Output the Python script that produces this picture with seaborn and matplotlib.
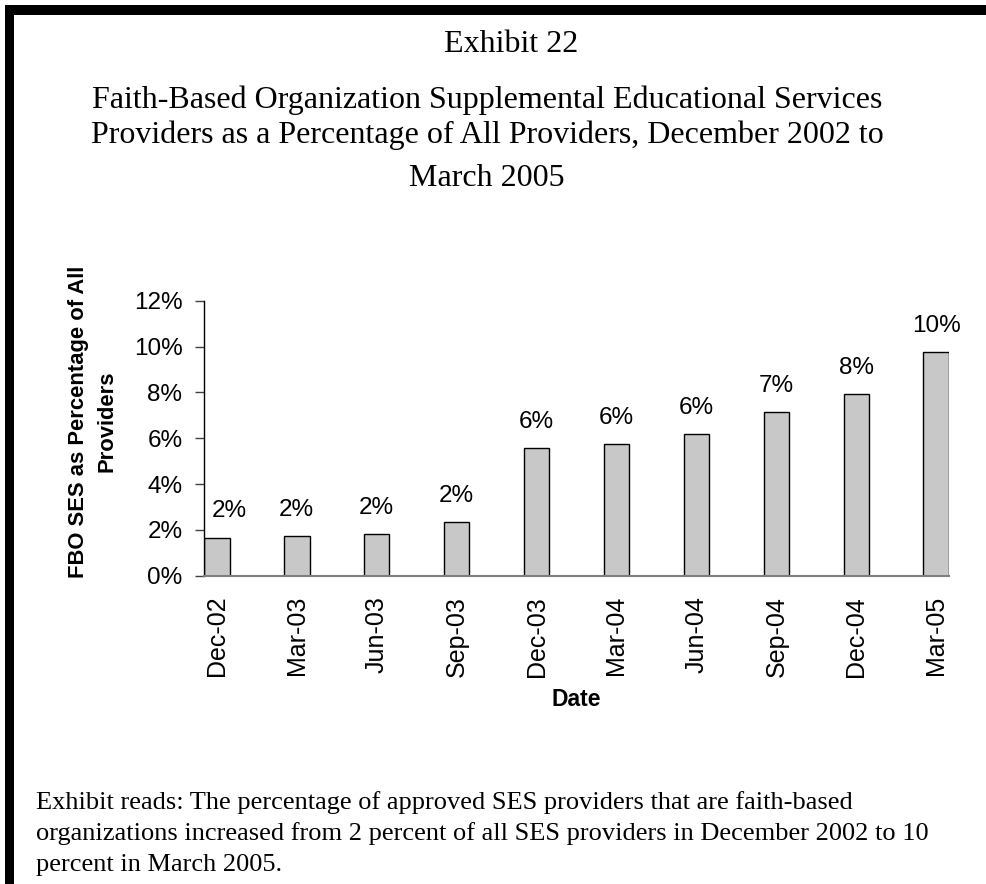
import numpy as np
import pandas as pd
import matplotlib
matplotlib.use('Agg')
import matplotlib.pyplot as plt
from matplotlib.patches import Rectangle
from matplotlib.ticker import FuncFormatter
import seaborn as sns

dates = ['Dec-02', 'Mar-03', 'Jun-03', 'Sep-03', 'Dec-03',
         'Mar-04', 'Jun-04', 'Sep-04', 'Dec-04', 'Mar-05']
fbo_share = [1.66, 1.73, 1.82, 2.34, 5.56, 5.74, 6.17, 7.13, 7.92, 9.76]
bar_labels = ['2%', '2%', '2%', '2%', '6%', '6%', '6%', '7%', '8%', '10%']
y_ticks = [0, 2, 4, 6, 8, 10, 12]

title_lines = ['Exhibit 22',
               'Faith-Based Organization Supplemental Educational Services',
               'Providers as a Percentage of All Providers, December 2002 to',
               'March 2005']
note_lines = ['Exhibit reads: The percentage of approved SES providers that are faith-based',
              'organizations increased from 2 percent of all SES providers in December 2002 to 10',
              'percent in March 2005.']


def main():
    sns.set_style('white')
    plt.rcParams['font.family'] = ['Liberation Sans', 'DejaVu Sans']
    plt.rcParams['text.color'] = 'black'
    plt.rcParams['axes.labelcolor'] = 'black'
    plt.rcParams['xtick.color'] = 'black'
    plt.rcParams['ytick.color'] = 'black'

    df = pd.DataFrame({'date': dates, 'share': fbo_share})

    fig = plt.figure(figsize=(9.86, 8.84), dpi=100)
    ax = fig.add_axes([0.2069, 0.3488, 0.7556, 0.3110])

    bar_w = 0.32
    sns.barplot(data=df, x='date', y='share', ax=ax, color='#c8c8c8',
                saturation=1, width=bar_w, edgecolor='black', linewidth=1)
    anns = ax.bar_label(ax.containers[0], labels=bar_labels, padding=11,
                        fontsize=17.5, color='black')
    # first label sits a little right of its bar, clear of the axis
    anns[0].xyann = (9, 11)

    ax.set_xlim(-bar_w / 2, len(dates) - 1 + bar_w / 2)
    ax.set_ylim(0, 12)
    ax.set_yticks(y_ticks)
    ax.yaxis.set_major_formatter(FuncFormatter(lambda v, p: '{:.0f}%'.format(v)))

    for s in ['top', 'right']:
        ax.spines[s].set_visible(False)
    ax.spines['left'].set_color('black')
    ax.spines['left'].set_linewidth(1)
    ax.spines['bottom'].set_color('#808080')
    ax.spines['bottom'].set_linewidth(1.5)

    ax.tick_params(axis='y', which='major', left=True, length=6.5, width=1,
                   color='#404040', pad=9, labelsize=17.5)
    ax.tick_params(axis='x', which='major', bottom=False, pad=11, labelsize=18,
                   labelrotation=90)

    ax.set_xlabel('Date', fontsize=16.5, fontweight='bold', labelpad=8)
    ax.set_ylabel('FBO SES as Percentage of All\nProviders', fontsize=15.8,
                  fontweight='bold', linespacing=1.5)
    ax.yaxis.set_label_coords(-0.116, 0.56)

    serif = ['Liberation Serif', 'DejaVu Serif']
    fig.text(511 / 986, 1 - 44 / 884, title_lines[0], ha='center', va='center',
             fontsize=23, family=serif)
    fig.text(487 / 986, 1 - 100 / 884, title_lines[1], ha='center', va='center',
             fontsize=23, family=serif)
    fig.text(487 / 986, 1 - 135 / 884, title_lines[2], ha='center', va='center',
             fontsize=23, family=serif)
    fig.text(487 / 986, 1 - 178 / 884, title_lines[3], ha='center', va='center',
             fontsize=23, family=serif)

    for i, line in enumerate(note_lines):
        fig.text(36 / 986, 1 - (803 + 31 * i) / 884, line, ha='left', va='center',
                 fontsize=19, family=serif)

    # black frame on top and left
    fig.add_artist(Rectangle((5 / 986, 1 - 15 / 884), 1, 10 / 884,
                             transform=fig.transFigure, color='black', lw=0))
    fig.add_artist(Rectangle((5 / 986, 0), 9 / 986, 1 - 5 / 884,
                             transform=fig.transFigure, color='black', lw=0))

    fig.savefig('out.png', dpi=100)


if __name__ == '__main__':
    main()
